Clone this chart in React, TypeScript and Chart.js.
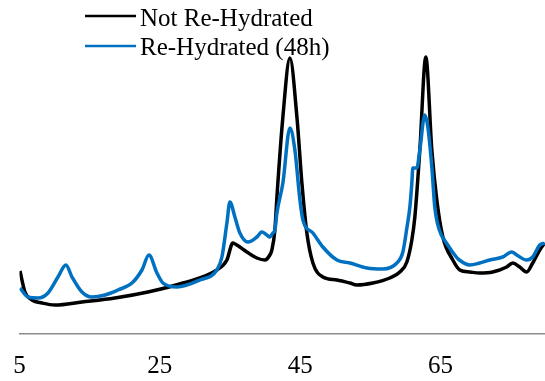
import React, { useEffect, useRef } from "react";
import { Chart, registerables } from "chart.js";

Chart.register(...registerables);

// XRD patterns: 2θ (degrees) and intensity (a.u.)
const notHydratedTwoTheta = [
  5.07, 5.78, 6.78, 8.21, 10.06, 13.9, 18.6, 23.3, 28.29, 33.13, 34.56, 35.41, 35.98,
  37.41, 38.83, 39.97, 40.68, 40.97, 41.4, 41.69, 42.54, 43.54, 44.54, 45.25, 45.96,
  46.82, 48.24, 50.24, 52.09, 53.08, 55.36, 57.78, 59.21, 60.21, 60.92, 61.35, 62.06,
  62.91, 63.77, 64.48, 65.34, 66.76, 67.76, 69.17, 70.6, 72.45, 74.44, 75.3, 76.3,
  77.29, 78.15, 79.15, 79.86,
];
const notHydratedIntensity = [
  189, 126, 102, 93, 87, 96, 108, 126, 153, 192, 222, 273, 267,
  246, 228, 222, 237, 252, 312, 411, 651, 828, 651, 453, 303,
  213, 171, 162, 153, 147, 153, 168, 186, 216, 282, 351, 552,
  831, 552, 402, 291, 222, 192, 186, 183, 186, 201, 213, 201,
  186, 213, 252, 273,
];

const rehydratedTwoTheta = [
  5.07, 6.21, 7.64, 9.06, 10.48, 11.62, 12.48, 13.9, 15.33, 17.18, 19.03, 21.03, 22.45,
  23.45, 24.59, 25.44, 27.44, 30.71, 33.13, 33.85, 34.56, 34.99, 35.7, 36.41, 37.55,
  38.83, 39.54, 40.26, 40.68, 41.11, 41.4, 41.69, 42.54, 43.54, 44.25, 44.97, 45.4,
  46.82, 48.24, 50.24, 52.09, 54.51, 56.79, 58.78, 59.64, 60.21, 60.64, 60.92, 61.06,
  61.63, 62.06, 62.77, 63.2, 63.77, 64.19, 64.84, 65.85, 67.26, 67.69, 69.17, 70.6,
  72.02, 73.87, 75.16, 75.87, 77.29, 78.15, 79.15, 79.86,
];
const rehydratedIntensity = [
  138, 111, 108, 123, 171, 207, 171, 126, 111, 117, 132, 153, 192,
  237, 183, 153, 141, 162, 192, 231, 333, 396, 351, 303, 276,
  291, 306, 297, 291, 303, 312, 363, 453, 618, 552, 402, 342,
  303, 261, 222, 213, 198, 195, 213, 246, 318, 381, 453, 498,
  498, 552, 657, 621, 501, 381, 312, 273, 231, 222, 207, 213,
  222, 231, 246, 237, 222, 231, 267, 273,
];

const xTicks = [5, 25, 45, 65];

const seriesNames = ["Not Re-Hydrated", "Re-Hydrated (48h)"];
const seriesColors = ["#000000", "#0070C0"];

const FONT = "'Liberation Serif', 'Times New Roman', serif";

const toPoints = (xs: number[], ys: number[]) => xs.map((x, i) => ({ x, y: ys[i] }));

// Two-row legend with line swatches, drawn in the top left of the canvas
const lineLegend = {
  id: "lineLegend",
  afterDraw(chart: Chart) {
    const ctx = chart.ctx;
    const rows = [
      { lineY: 16, textY: 26 },
      { lineY: 46, textY: 55 },
    ];
    ctx.save();
    ctx.font = `25px ${FONT}`;
    ctx.textBaseline = "alphabetic";
    ctx.textAlign = "left";
    rows.forEach((row, i) => {
      ctx.strokeStyle = seriesColors[i];
      ctx.lineWidth = 2.5;
      ctx.beginPath();
      ctx.moveTo(85, row.lineY);
      ctx.lineTo(136, row.lineY);
      ctx.stroke();
      ctx.fillStyle = "#000000";
      ctx.fillText(seriesNames[i], 140, row.textY);
    });
    ctx.restore();
  },
};

export default function App() {
  const canvasRef = useRef<HTMLCanvasElement | null>(null);

  useEffect(() => {
    if (!canvasRef.current) return;
    const chart = new Chart(canvasRef.current, {
      type: "line",
      data: {
        datasets: [
          {
            label: seriesNames[0],
            data: toPoints(notHydratedTwoTheta, notHydratedIntensity),
            borderColor: seriesColors[0],
            borderWidth: 3.5,
            pointRadius: 0,
            cubicInterpolationMode: "monotone",
            order: 1,
          },
          {
            label: seriesNames[1],
            data: toPoints(rehydratedTwoTheta, rehydratedIntensity),
            borderColor: seriesColors[1],
            borderWidth: 3.5,
            pointRadius: 0,
            cubicInterpolationMode: "monotone",
            order: 0,
          },
        ],
      },
      options: {
        animation: false,
        responsive: true,
        maintainAspectRatio: false,
        layout: { padding: { top: 34, left: 19.5, right: 0, bottom: 0 } },
        plugins: {
          legend: { display: false },
          tooltip: { enabled: false },
        },
        scales: {
          x: {
            type: "linear",
            min: 5,
            max: 79.9,
            grid: { display: false, drawTicks: false },
            border: { display: true, color: "#8c8c8c", width: 1.5 },
            afterBuildTicks: (axis: any) => {
              axis.ticks = xTicks.map((v) => ({ value: v }));
            },
            afterFit: (axis: any) => {
              axis.height = 47;
              axis.paddingLeft = 0;
              axis.paddingRight = 0;
            },
            ticks: {
              padding: 17,
              maxRotation: 0,
              autoSkip: false,
              color: "#000000",
              font: { family: FONT, size: 25 },
            },
          },
          y: {
            display: false,
            min: 0,
            max: 900,
          },
        },
      },
      plugins: [lineLegend],
    });
    return () => chart.destroy();
  }, []);

  return (
    <div style={{ position: "fixed", left: 0, top: 0, width: 545, height: 381, background: "#ffffff" }}>
      <canvas ref={canvasRef} />
    </div>
  );
}
